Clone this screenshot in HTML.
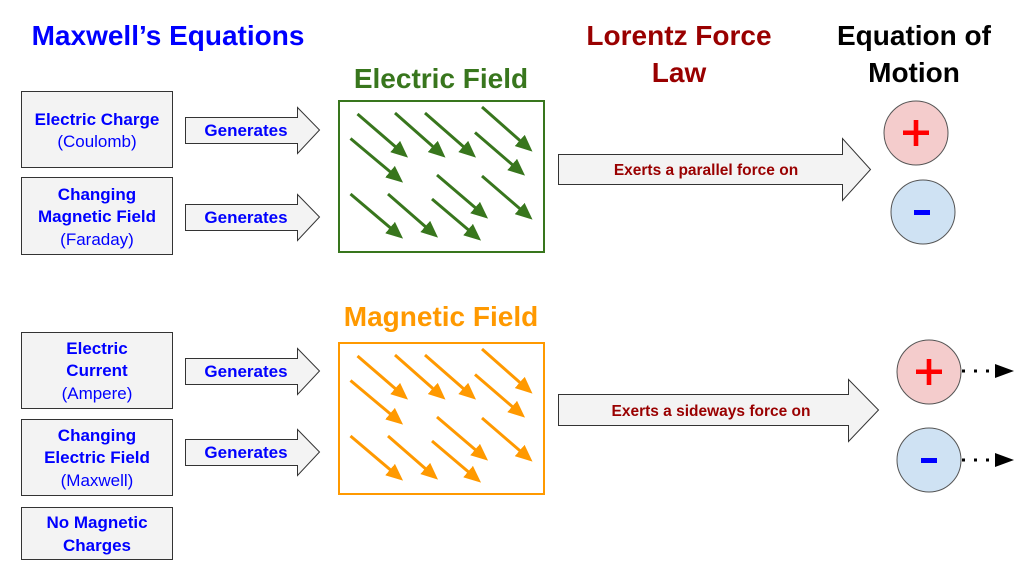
<!DOCTYPE html>
<html><head><meta charset="utf-8"><style>
html,body{margin:0;padding:0;background:#fff}
svg{display:block}
text{font-family:"Liberation Sans",sans-serif;font-weight:bold}
text.n{font-weight:normal}
</style></head><body>
<svg width="1022" height="572" viewBox="0 0 1022 572" xmlns="http://www.w3.org/2000/svg">
<defs>
<marker id="ga" markerWidth="17" markerHeight="15" refX="13" refY="7.5" orient="auto" markerUnits="userSpaceOnUse"><path d="M0,0 L17,7.5 L0,15 Z" fill="#38761d"/></marker>
<marker id="oa" markerWidth="17" markerHeight="15" refX="13" refY="7.5" orient="auto" markerUnits="userSpaceOnUse"><path d="M0,0 L17,7.5 L0,15 Z" fill="#ff9900"/></marker>
</defs>
<!-- titles -->
<text x="168" y="45" font-size="28" fill="#0000ff" text-anchor="middle">Maxwell’s Equations</text>
<text x="441" y="88" font-size="28" fill="#38761d" text-anchor="middle">Electric Field</text>
<text x="441" y="326" font-size="28" fill="#ff9900" text-anchor="middle">Magnetic Field</text>
<text x="679" y="45" font-size="28" fill="#990000" text-anchor="middle">Lorentz Force</text>
<text x="679" y="82" font-size="28" fill="#990000" text-anchor="middle">Law</text>
<text x="914" y="45" font-size="28" fill="#000" text-anchor="middle">Equation of</text>
<text x="914" y="82" font-size="28" fill="#000" text-anchor="middle">Motion</text>

<!-- left boxes -->
<g fill="#f3f3f3" stroke="#333" stroke-width="1">
<rect x="21.5" y="91.5" width="151" height="76"/>
<rect x="21.5" y="177.5" width="151" height="77"/>
<rect x="21.5" y="332.5" width="151" height="76"/>
<rect x="21.5" y="419.5" width="151" height="76"/>
<rect x="21.5" y="507.5" width="151" height="52"/>
</g>
<g font-size="17" text-anchor="middle" fill="#0000ff">
<text x="97" y="125">Electric Charge</text>
<text x="97" y="147" class="n">(Coulomb)</text>
<text x="97" y="200">Changing</text>
<text x="97" y="222">Magnetic Field</text>
<text x="97" y="245" class="n">(Faraday)</text>
<text x="97" y="354">Electric</text>
<text x="97" y="376">Current</text>
<text x="97" y="399" class="n">(Ampere)</text>
<text x="97" y="441">Changing</text>
<text x="97" y="463">Electric Field</text>
<text x="97" y="486" class="n">(Maxwell)</text>
<text x="97" y="528">No Magnetic</text>
<text x="97" y="551">Charges</text>
</g>

<!-- Generates arrows -->
<g fill="#f3f3f3" stroke="#333" stroke-width="1">
<path d="M185.5,117.5 H297.5 V107.5 L319.5,130 L297.5,153.5 V143.5 H185.5 Z"/>
<path d="M185.5,204.5 H297.5 V194.5 L319.5,217 L297.5,240.5 V230.5 H185.5 Z"/>
<path d="M185.5,358.5 H297.5 V348.5 L319.5,371 L297.5,394.5 V384.5 H185.5 Z"/>
<path d="M185.5,439.5 H297.5 V429.5 L319.5,452 L297.5,475.5 V465.5 H185.5 Z"/>
</g>
<g font-size="17" fill="#0000ff" text-anchor="middle">
<text x="246" y="136">Generates</text>
<text x="246" y="223">Generates</text>
<text x="246" y="377">Generates</text>
<text x="246" y="458">Generates</text>
</g>

<!-- field boxes -->
<rect x="339" y="101" width="205" height="151" fill="none" stroke="#38761d" stroke-width="2"/>
<rect x="339" y="343" width="205" height="151" fill="none" stroke="#ff9900" stroke-width="2"/>
<g stroke="#38761d" stroke-width="3" marker-end="url(#ga)">
<line x1="357.5" y1="114" x2="405" y2="155"/>
<line x1="395" y1="113" x2="442.5" y2="155"/>
<line x1="425" y1="113" x2="473" y2="155"/>
<line x1="482" y1="107" x2="529.5" y2="149"/>
<line x1="350.5" y1="138.5" x2="400" y2="180"/>
<line x1="475" y1="132.5" x2="522" y2="173"/>
<line x1="437" y1="175" x2="485" y2="216"/>
<line x1="482" y1="176" x2="529.5" y2="217"/>
<line x1="350.5" y1="194" x2="400" y2="236"/>
<line x1="388" y1="194" x2="435" y2="235"/>
<line x1="432" y1="199" x2="478" y2="238"/>
</g>
<g stroke="#ff9900" stroke-width="3" marker-end="url(#oa)" transform="translate(0,242)">
<line x1="357.5" y1="114" x2="405" y2="155"/>
<line x1="395" y1="113" x2="442.5" y2="155"/>
<line x1="425" y1="113" x2="473" y2="155"/>
<line x1="482" y1="107" x2="529.5" y2="149"/>
<line x1="350.5" y1="138.5" x2="400" y2="180"/>
<line x1="475" y1="132.5" x2="522" y2="173"/>
<line x1="437" y1="175" x2="485" y2="216"/>
<line x1="482" y1="176" x2="529.5" y2="217"/>
<line x1="350.5" y1="194" x2="400" y2="236"/>
<line x1="388" y1="194" x2="435" y2="235"/>
<line x1="432" y1="199" x2="478" y2="238"/>
</g>

<!-- Lorentz arrows -->
<g fill="#f3f3f3" stroke="#333" stroke-width="1">
<path d="M558.5,154.5 H842.5 V138.5 L870.5,169.5 L842.5,200.5 V184.5 H558.5 Z"/>
<path d="M558.5,394.5 H848.5 V379.5 L878.5,410 L848.5,441.5 V425.5 H558.5 Z"/>
</g>
<g font-size="15.5" fill="#990000" text-anchor="middle">
<text x="706" y="175">Exerts a parallel force on</text>
<text x="711" y="416">Exerts a sideways force on</text>
</g>

<!-- charges -->
<g stroke="#555" stroke-width="1">
<circle cx="916" cy="133" r="32" fill="#f4cccc"/>
<circle cx="923" cy="212" r="32" fill="#cfe2f3"/>
<circle cx="929" cy="372" r="32" fill="#f4cccc"/>
<circle cx="929" cy="460" r="32" fill="#cfe2f3"/>
</g>
<g fill="#ff0000">
<rect x="903" y="130.5" width="26" height="4.5"/><rect x="913.7" y="120" width="4.6" height="26"/>
<rect x="916" y="369.5" width="26" height="4.5"/><rect x="926.7" y="359" width="4.6" height="26"/>
</g>
<g fill="#0000ff">
<rect x="914" y="210" width="16" height="5"/>
<rect x="921" y="458" width="16" height="5"/>
</g>
<!-- dotted arrows -->
<g stroke="#000" stroke-width="3" stroke-dasharray="3,9">
<line x1="962" y1="371" x2="997" y2="371"/>
<line x1="962" y1="460" x2="997" y2="460"/>
</g>
<path d="M995,364 L1014,371 L995,378 Z" fill="#000"/>
<path d="M995,453 L1014,460 L995,467 Z" fill="#000"/>
</svg>
</body></html>
